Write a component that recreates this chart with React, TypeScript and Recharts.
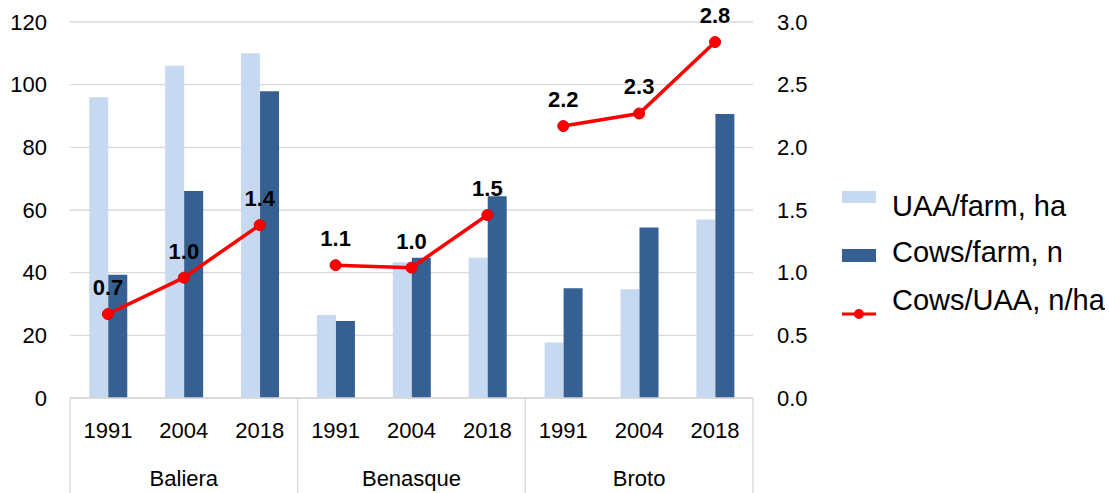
import React from 'react';
import { ComposedChart, Bar, Line, XAxis, YAxis, CartesianGrid, Legend, LabelList } from 'recharts';

const years = ['1991', '2004', '2018', '1991', '2004', '2018', '1991', '2004', '2018'];
const groups = ['Baliera', 'Baliera', 'Baliera', 'Benasque', 'Benasque', 'Benasque', 'Broto', 'Broto', 'Broto'];
const groupNames = ['Baliera', 'Benasque', 'Broto'];
const uaaPerFarm = [96, 106, 110, 26.5, 43.3, 44.8, 17.7, 34.7, 57];
const cowsPerFarm = [39.3, 66.1, 97.9, 24.6, 44.8, 64.4, 35, 54.4, 90.6];
const cowsPerUaa = [0.67, 0.96, 1.38, 1.06, 1.04, 1.46, 2.17, 2.27, 2.84];
const leftTicks = [0, 20, 40, 60, 80, 100, 120];
const rightTicks = [0, 0.5, 1, 1.5, 2, 2.5, 3];

const data = years.map((y, i) => {
  const row: any = {
    key: `${groups[i]}-${y}`,
    year: y,
    group: groups[i],
    uaa: uaaPerFarm[i],
    cows: cowsPerFarm[i],
  };
  groupNames.forEach((g) => {
    row[`ratio_${g}`] = groups[i] === g ? cowsPerUaa[i] : null;
  });
  return row;
});

const FONT = '"Liberation Sans", Arial, sans-serif';
const LIGHT = '#c6d9f0';
const DARK = '#376092';
const RED = '#ff0000';
const GRID = '#d9d9d9';

const XTick = (props: any) => {
  const { x, y, index, payload } = props;
  const half = payload && payload.offset ? payload.offset : 38;
  const d = data[index];
  return (
    <g>
      <text x={x} y={y + 40} textAnchor="middle" fontSize={22} fontFamily={FONT} fill="#000">
        {d ? d.year : ''}
      </text>
      {index % 3 === 1 && (
        <text x={x} y={y + 88} textAnchor="middle" fontSize={22} fontFamily={FONT} fill="#000">
          {d ? d.group : ''}
        </text>
      )}
      {index % 3 === 0 && <line x1={x - half} x2={x - half} y1={y} y2={y + 95} stroke={GRID} strokeWidth={1.3} />}
      {index === data.length - 1 && <line x1={x + half} x2={x + half} y1={y} y2={y + 95} stroke={GRID} strokeWidth={1.3} />}
    </g>
  );
};

const LegendContent = () => (
  <svg width={270} height={150} style={{ display: 'block' }}>
    <rect x={7} y={11} width={34} height={12} fill={LIGHT} />
    <text x={57} y={36} fontSize={29} fontFamily={FONT} fill="#000">UAA/farm, ha</text>
    <rect x={7} y={69} width={34} height={13} fill={DARK} />
    <text x={57} y={82} fontSize={29} fontFamily={FONT} fill="#000">Cows/farm, n</text>
    <line x1={7} x2={41} y1={134} y2={134} stroke={RED} strokeWidth={3} />
    <circle cx={24} cy={134} r={5} fill={RED} />
    <text x={57} y={130} fontSize={29} fontFamily={FONT} fill="#000">Cows/UAA, n/ha</text>
  </svg>
);

export default function App() {
  return (
    <div style={{ position: 'absolute', left: 0, top: 0, width: 1109, height: 493, background: '#fff' }}>
      <ComposedChart
        width={1109}
        height={493}
        data={data}
        margin={{ top: 22, right: 276, left: 0, bottom: 0 }}
        barGap={0}
        barCategoryGap="25.4%"
      >
        <CartesianGrid vertical={false} stroke={GRID} strokeWidth={1.3} yAxisId="left" />
        <XAxis
          dataKey="key"
          height={95}
          interval={0}
          tickSize={0}
          tickMargin={0}
          axisLine={{ stroke: GRID, strokeWidth: 1.3 }}
          tickLine={false}
          tick={<XTick />}
        />
        <YAxis
          yAxisId="left"
          orientation="left"
          width={70}
          domain={[0, 120]}
          ticks={leftTicks}
          axisLine={false}
          tickLine={false}
          tickMargin={17}
          tick={{ fontSize: 22, fontFamily: FONT, fill: '#000' }}
        />
        <YAxis
          yAxisId="right"
          orientation="right"
          width={80}
          domain={[0, 3]}
          ticks={rightTicks}
          axisLine={false}
          tickLine={false}
          tickMargin={18}
          tickFormatter={(v: number) => v.toFixed(1)}
          tick={{ fontSize: 22, fontFamily: FONT, fill: '#000', textAnchor: 'start' }}
        />
        <Bar yAxisId="left" dataKey="uaa" name="UAA/farm, ha" fill={LIGHT} isAnimationActive={false} />
        <Bar yAxisId="left" dataKey="cows" name="Cows/farm, n" fill={DARK} isAnimationActive={false} />
        {groupNames.map((g) => (
          <Line
            key={g}
            yAxisId="right"
            dataKey={`ratio_${g}`}
            name="Cows/UAA, n/ha"
            stroke={RED}
            strokeWidth={3.5}
            connectNulls={false}
            dot={{ r: 5.5, fill: RED, stroke: '#e00000', strokeWidth: 1 }}
            activeDot={false}
            isAnimationActive={false}
          >
            <LabelList
              dataKey={`ratio_${g}`}
              position="top"
              offset={19}
              formatter={(v: any) => (v === null || v === undefined ? '' : Number(v).toFixed(1))}
              style={{ fontSize: 22, fontWeight: 'bold', fontFamily: FONT, fill: '#000' }}
            />
          </Line>
        ))}
        <Legend
          layout="horizontal"
          verticalAlign="middle"
          align="center"
          content={<LegendContent />}
          wrapperStyle={{ left: 835, top: 180, width: 270, height: 150 }}
        />
      </ComposedChart>
    </div>
  );
}
